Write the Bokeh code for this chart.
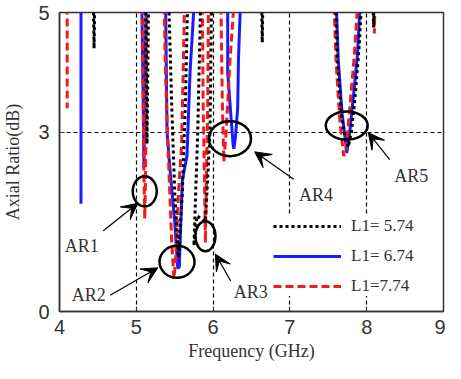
import math
from bokeh.plotting import figure
from bokeh.models import Legend, LegendItem, Arrow, VeeHead, FixedTicker, Range1d
from bokeh.core.properties import value
from bokeh.embed import file_html
from bokeh.resources import INLINE

NAN = float("nan")

# ---- data: L1 = 5.74 (black dotted) ----
l574_x = [4.44, 4.45, 4.46, NAN,
          5.12, 5.14, 5.16, NAN,
          5.42, 5.46, 5.50, 5.55, 5.60, 5.64, 5.67, NAN,
          5.84, 5.80, 5.75, 5.79, 5.90, 5.96, 5.98, NAN,
          6.63, 6.64, 6.65, NAN,
          7.59, 7.62, 7.67, 7.72, 7.76, 7.80, 7.85, 7.90, 7.94, NAN,
          8.08, 8.09, 8.10]
l574_y = [5.3, 4.4, 5.3, NAN,
          5.3, 2.8, 5.3, NAN,
          5.3, 3.5, 2.0, 0.9, 2.0, 3.5, 5.3, NAN,
          5.3, 3.0, 1.1, 1.6, 1.5, 3.0, 5.3, NAN,
          5.3, 4.5, 5.3, NAN,
          5.3, 4.2, 3.3, 2.9, 2.75, 3.0, 3.6, 4.4, 5.3, NAN,
          5.3, 4.75, 5.3]

# ---- data: L1 = 6.74 (blue solid) ----
l674_x = [4.28, 4.28, NAN,
          5.07, 5.09, 5.10, 5.11, 5.13, NAN,
          5.38, 5.40, 5.45, 5.50, 5.54, 5.56, 5.58, 5.60, 5.66, 5.70, 5.76, NAN,
          6.19, 6.19, 6.23, 6.26, 6.27, 6.29, 6.32, 6.33, 6.36, NAN,
          7.60, 7.63, 7.68, 7.72, 7.74, 7.77, 7.82, 7.88, 7.92]
l674_y = [5.3, 1.8, NAN,
          5.3, 3.5, 2.4, 3.5, 5.3, NAN,
          5.3, 3.0, 2.2, 1.5, 0.72, 0.75, 1.5, 2.2, 2.6, 4.0, 5.3, NAN,
          5.3, 4.0, 3.3, 2.8, 2.72, 2.9, 3.4, 4.2, 5.3, NAN,
          5.3, 4.2, 3.3, 2.9, 2.65, 2.9, 3.5, 4.3, 5.3]

# ---- data: L1 = 7.74 (red dashed) ----
l774_x = [4.10, 4.10, NAN,
          5.08, 5.09, 5.10, 5.11, 5.12, 5.13, 5.14, NAN,
          5.36, 5.38, 5.42, 5.46, 5.49, 5.51, 5.55, 5.59, 5.61, 5.63, NAN,
          5.86, 5.87, 5.89, 5.90, 5.91, 5.93, 5.94, NAN,
          6.10, 6.12, 6.14, 6.17, 6.22, 6.28, NAN,
          7.57, 7.60, 7.65, 7.70, 7.73, 7.78, 7.84, 7.89, NAN,
          8.09, 8.10, 8.11]
l774_y = [5.3, 3.4, NAN,
          5.3, 3.5, 2.2, 1.55, 2.2, 3.5, 5.3, NAN,
          5.3, 4.0, 2.5, 1.2, 0.55, 0.8, 2.0, 2.8, 4.0, 5.3, NAN,
          5.3, 3.5, 2.0, 1.15, 2.0, 3.5, 5.3, NAN,
          5.3, 3.5, 2.5, 3.0, 4.2, 5.3, NAN,
          5.3, 4.2, 3.2, 2.6, 2.7, 3.4, 4.3, 5.3, NAN,
          5.3, 4.65, 5.3]

x_ticks = [4, 5, 6, 7, 8, 9]
y_ticks = [0, 3, 5]
series_labels = ["L1= 5.74", "L1= 6.74", "L1=7.74"]

# annotations
ar_names = ["AR1", "AR2", "AR3", "AR4", "AR5"]
ell_x = [5.11, 5.53, 5.90, 6.22, 7.74]
ell_y = [2.01, 0.83, 1.26, 2.89, 3.11]
ell_w = [24, 35, 20, 42, 42]
ell_h = [30, 32, 30, 35, 28]
arr_x0 = [4.57, 4.66, 6.23, 7.05, 8.30]
arr_y0 = [1.35, 0.27, 0.51, 2.21, 2.54]
arr_x1 = [5.02, 5.28, 6.03, 6.54, 8.02]
arr_y1 = [1.81, 0.73, 0.96, 2.67, 2.99]
lab_x = [4.29, 4.38, 6.49, 7.34, 8.58]
lab_y = [1.10, 0.27, 0.32, 1.94, 2.26]

p = figure(width=445, height=363, output_backend="svg", toolbar_location=None,
           x_range=Range1d(4, 9), y_range=Range1d(0, 5),
           min_border_left=55, min_border_right=2, min_border_top=12, min_border_bottom=50)
p.background_fill_color = "white"
p.border_fill_color = "white"
p.outline_line_color = "#333333"
p.outline_line_width = 1.5

# grid: dashed reference lines
p.xgrid.ticker = FixedTicker(ticks=[5, 6, 7, 8])
p.ygrid.ticker = FixedTicker(ticks=[3])
for g in (p.xgrid, p.ygrid):
    g.grid_line_color = "black"
    g.grid_line_dash = "4 3"
    g.grid_line_width = 1.2

p.xaxis.ticker = FixedTicker(ticks=x_ticks)
p.yaxis.ticker = FixedTicker(ticks=y_ticks)
for ax in (p.xaxis, p.yaxis):
    ax.axis_line_color = "#333333"
    ax.axis_line_width = 1.5
    ax.major_tick_in = 5
    ax.major_tick_out = 0
    ax.minor_tick_line_color = None
    ax.major_tick_line_color = "#333333"
    ax.major_label_text_font = "Liberation Sans"
    ax.major_label_text_font_size = "20px"
    ax.major_label_text_color = "#333333"
    ax.axis_label_text_font = "Liberation Serif"
    ax.axis_label_text_font_size = "18px"
    ax.axis_label_text_font_style = "normal"
    ax.axis_label_text_color = "#333333"
p.xaxis.axis_label = "Frequency (GHz)"
p.yaxis.axis_label = "Axial Ratio(dB)"
p.xaxis.major_label_standoff = 8
p.xaxis.axis_label_standoff = 4
p.yaxis.major_label_standoff = 10
p.yaxis.axis_label_standoff = 12

r_blue = p.line(l674_x, l674_y, line_color="#1a1aff", line_width=3)
r_red = p.line(l774_x, l774_y, line_color="#ee1c1c", line_width=3, line_dash="8 4")
r_black = p.line(l574_x, l574_y, line_color="black", line_width=3, line_dash="3 3")

p.ellipse(x=ell_x, y=ell_y, width=ell_w, height=ell_h, width_units="screen", height_units="screen",
          fill_color=None, line_color="black", line_width=2.5)

for i in range(len(ar_names)):
    p.add_layout(Arrow(end=VeeHead(size=16, fill_color="black", line_color="black"),
                       x_start=arr_x0[i], y_start=arr_y0[i], x_end=arr_x1[i], y_end=arr_y1[i],
                       line_color="black", line_width=1.2))

p.text(x=lab_x, y=lab_y, text=ar_names, text_font=value("Liberation Serif"), text_font_size="18px",
       text_align="center", text_baseline="middle", text_color="#333333")

legend = Legend(items=[LegendItem(label=series_labels[0], renderers=[r_black]),
                       LegendItem(label=series_labels[1], renderers=[r_blue]),
                       LegendItem(label=series_labels[2], renderers=[r_red])],
                location=(214, 15))
legend.label_text_font = "Liberation Serif"
legend.label_text_font_size = "17px"
legend.label_text_color = "#333333"
legend.glyph_width = 68
legend.glyph_height = 20
legend.label_height = 20
legend.spacing = 10
legend.padding = 8
legend.margin = 0
legend.label_standoff = 10
legend.border_line_color = None
legend.background_fill_color = "white"
legend.background_fill_alpha = 1.0
p.add_layout(legend)

open("out.html", "w").write(file_html(p, INLINE))
